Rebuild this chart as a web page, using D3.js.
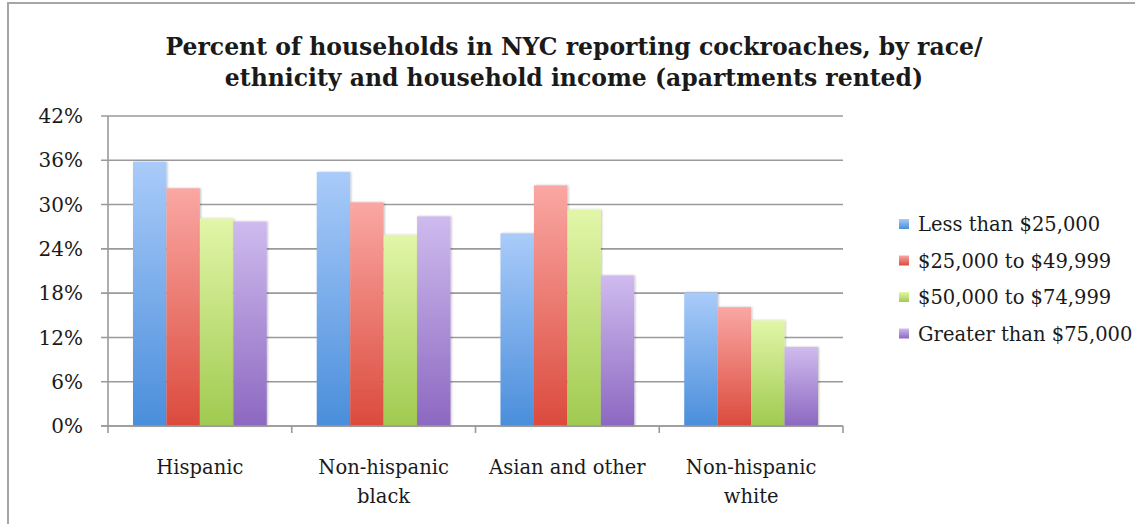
<!DOCTYPE html>
<html>
<head>
<meta charset="utf-8">
<script src="https://cdn.jsdelivr.net/npm/d3@7"></script>
<style>
  body { margin: 0; background: #fff; }
  text { font-family: "DejaVu Serif", serif; fill: #1a1a1a; }
</style>
</head>
<body>
<div id="chart"></div>
<script>
// data
var categories = [["Hispanic"], ["Non-hispanic", "black"], ["Asian and other"], ["Non-hispanic", "white"]];
var seriesNames = ["Less than $25,000", "$25,000 to $49,999", "$50,000 to $74,999", "Greater than $75,000"];
var lessThan25k = [35.8, 34.4, 26.1, 18.1];
var from25kTo50k = [32.2, 30.3, 32.6, 16.1];
var from50kTo75k = [28.1, 25.9, 29.3, 14.3];
var over75k = [27.7, 28.4, 20.4, 10.7];
var yTicks = [0, 6, 12, 18, 24, 30, 36, 42];
var titleLines = ["Percent of households in NYC reporting cockroaches, by race/",
    "ethnicity and household income (apartments rented)"];

var series = [lessThan25k, from25kTo50k, from50kTo75k, over75k];
var colours = [
    { top: "#a9cbf9", bottom: "#4a8edb" },
    { top: "#faa7a3", bottom: "#db4b3d" },
    { top: "#e2f6a8", bottom: "#a0ca50" },
    { top: "#cfbbee", bottom: "#8c68c1" }
];

var W = 1135, H = 524;
var margin = { left: 108, right: 292, top: 116, bottom: 98 };
var width = W - margin.left - margin.right;
var height = H - margin.top - margin.bottom;

var svg = d3.select("#chart").append("svg")
    .attr("width", W)
    .attr("height", H);

// outer frame
svg.append("rect")
    .attr("x", 8).attr("y", 3)
    .attr("width", W).attr("height", H)
    .attr("fill", "none")
    .attr("stroke", "#a6a6a6")
    .attr("stroke-width", 2);

var defs = svg.append("defs");
colours.forEach(function (c, i) {
    var grad = defs.append("linearGradient")
        .attr("id", "grad" + i)
        .attr("x1", 0).attr("y1", 0).attr("x2", 0).attr("y2", 1);
    grad.append("stop").attr("offset", "0%").attr("stop-color", c.top);
    grad.append("stop").attr("offset", "100%").attr("stop-color", c.bottom);
});
defs.append("filter").attr("id", "shadow")
    .attr("x", "-20%").attr("y", "-5%").attr("width", "140%").attr("height", "110%")
    .append("feDropShadow")
    .attr("dx", 1).attr("dy", 0).attr("stdDeviation", 1.2)
    .attr("flood-color", "#000").attr("flood-opacity", 0.25);

// title
svg.append("g").selectAll("text")
    .data(titleLines)
    .enter().append("text")
    .attr("x", 574)
    .attr("y", function (d, i) { return 55 + i * 31; })
    .attr("text-anchor", "middle")
    .attr("font-size", "23.5px")
    .attr("font-weight", "bold")
    .attr("fill", "#111")
    .text(function (d) { return d; });

var g = svg.append("g")
    .attr("transform", "translate(" + margin.left + "," + margin.top + ")");

var catIdx = d3.range(categories.length);
var x0 = d3.scaleBand().domain(catIdx).range([0, width]).paddingInner(0).paddingOuter(0);
var x1 = d3.scaleBand().domain(d3.range(series.length))
    .range([25, x0.bandwidth() - 25]).padding(0);
var y = d3.scaleLinear().domain([0, 42]).range([height, 0]);

// gridlines
g.selectAll(".grid")
    .data(yTicks)
    .enter().append("line")
    .attr("class", "grid")
    .attr("x1", -7).attr("x2", width)
    .attr("y1", function (d) { return y(d); })
    .attr("y2", function (d) { return y(d); })
    .attr("stroke", "#9a9a9a")
    .attr("stroke-width", 1.6);

// y labels
g.selectAll(".ylab")
    .data(yTicks)
    .enter().append("text")
    .attr("class", "ylab")
    .attr("x", -25)
    .attr("y", function (d) { return y(d); })
    .attr("dy", "0.36em")
    .attr("text-anchor", "end")
    .attr("font-size", "20px")
    .text(function (d) { return d + "%"; });

// bars
var groups = g.selectAll(".cat")
    .data(catIdx)
    .enter().append("g")
    .attr("class", "cat")
    .attr("transform", function (d) { return "translate(" + x0(d) + ",0)"; });

groups.selectAll("rect")
    .data(function (c) { return series.map(function (s, i) { return { i: i, v: s[c] }; }); })
    .enter().append("rect")
    .attr("x", function (d) { return x1(d.i); })
    .attr("width", x1.bandwidth())
    .attr("y", function (d) { return y(d.v); })
    .attr("height", function (d) { return height - y(d.v); })
    .attr("fill", function (d) { return "url(#grad" + d.i + ")"; })
    .attr("filter", "url(#shadow)");

// axes lines
g.append("line")
    .attr("x1", 0).attr("x2", 0).attr("y1", 0).attr("y2", height)
    .attr("stroke", "#9a9a9a").attr("stroke-width", 1.6);
g.append("line")
    .attr("x1", -7).attr("x2", width).attr("y1", height).attr("y2", height)
    .attr("stroke", "#9a9a9a").attr("stroke-width", 1.6);
g.selectAll(".xtick")
    .data(d3.range(categories.length + 1))
    .enter().append("line")
    .attr("class", "xtick")
    .attr("x1", function (d) { return d * x0.bandwidth(); })
    .attr("x2", function (d) { return d * x0.bandwidth(); })
    .attr("y1", height).attr("y2", height + 7)
    .attr("stroke", "#9a9a9a").attr("stroke-width", 1.6);

// category labels
var catLabels = g.selectAll(".xlab")
    .data(catIdx)
    .enter().append("text")
    .attr("class", "xlab")
    .attr("x", function (d) { return x0(d) + x0.bandwidth() / 2; })
    .attr("y", height + 48)
    .attr("text-anchor", "middle")
    .attr("font-size", "19.5px");
catLabels.selectAll("tspan")
    .data(function (d) { return categories[d]; })
    .enter().append("tspan")
    .attr("x", function () { return +d3.select(this.parentNode).attr("x"); })
    .attr("dy", function (d, i) { return i === 0 ? 0 : 29; })
    .text(function (d) { return d; });

// legend
var legend = svg.append("g").attr("transform", "translate(899,224)");
var items = legend.selectAll(".item")
    .data(seriesNames)
    .enter().append("g")
    .attr("class", "item")
    .attr("transform", function (d, i) { return "translate(0," + i * 36.5 + ")"; });
items.append("rect")
    .attr("x", 0).attr("y", -5)
    .attr("width", 10).attr("height", 10)
    .attr("fill", function (d, i) { return "url(#grad" + i + ")"; });
items.append("text")
    .attr("x", 19).attr("dy", "0.36em")
    .attr("font-size", "19.5px")
    .text(function (d) { return d; });
</script>
</body>
</html>
